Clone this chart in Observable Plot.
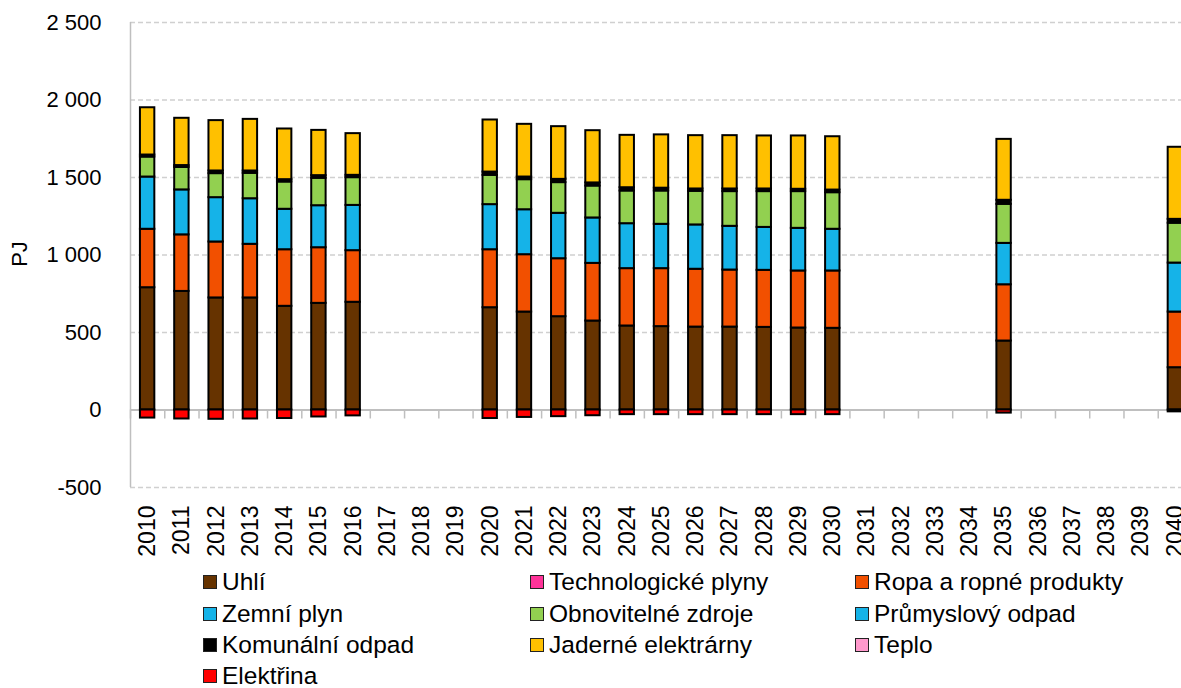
<!DOCTYPE html>
<html>
<head>
<meta charset="utf-8">
<script src="https://cdn.jsdelivr.net/npm/d3@7"></script>
<script src="https://cdn.jsdelivr.net/npm/@observablehq/plot@0.6"></script>
<style>
  html, body { margin: 0; padding: 0; background: #fff; overflow: hidden; }
  #wrap { position: relative; width: 1181px; height: 688px; overflow: hidden; font-family: "Liberation Sans", Arial, sans-serif; color: #000; }
  #chart { position: absolute; left: 0; top: 0; width: 1200px; }
  #chart svg { max-width: none !important; }
  #ylab { position: absolute; left: 20px; top: 254px; transform: translate(-50%, -50%) rotate(-90deg); font-size: 22px; white-space: nowrap; }
  .lg { position: absolute; display: flex; align-items: center; font-size: 24.5px; white-space: nowrap; line-height: 1; }
  .lg .sw { width: 12px; height: 12px; border: 1.5px solid #222; margin-right: 5px; flex: none; }
</style>
</head>
<body>
<div id="wrap">
  <div id="chart"></div>
  <div id="ylab">PJ</div>
  <div id="legend"></div>
</div>
<script>
// ---- data ----
const years = d3.range(2010, 2041);
const dataYears = [2010,2011,2012,2013,2014,2015,2016,2020,2021,2022,2023,2024,2025,2026,2027,2028,2029,2030,2035,2040];
const seriesNames = ["Uhlí","Technologické plyny","Ropa a ropné produkty","Zemní plyn","Obnovitelné zdroje","Průmyslový odpad","Komunální odpad","Jaderné elektrárny","Teplo","Elektřina"];
const seriesColors = ["#663300","#FF3399","#F25000","#15B3E8","#92D050","#15B3E8","#000000","#FFC000","#FF99CC","#FF0000"];
const uhli        = [789,765,723,723,669,688,695,660,632,602,574,542,538,535,535,533,529,527,445,273];
const techPlyny   = [0,0,0,0,0,0,0,0,0,0,0,0,0,0,0,0,0,0,0,0];
const ropa        = [377,365,361,346,365,359,333,374,370,374,372,370,374,373,368,368,368,370,363,359];
const zemniPlyn   = [337,290,286,294,261,271,292,291,290,293,293,290,286,286,282,277,275,269,267,316];
const obnovitelne = [129,145,155,164,176,177,179,189,194,198,206,211,215,217,224,231,237,236,252,257];
const prumyslovy  = [0,0,0,0,0,0,0,0,0,0,0,0,0,0,0,0,0,0,0,0];
const komunalni   = [13,12,17,15,15,17,15,21,17,21,20,21,18,15,17,17,15,17,26,25];
const jaderne     = [305,305,325,333,327,292,269,336,340,340,337,338,344,344,344,342,344,344,393,465];
const teplo       = [0,0,0,0,0,0,0,0,0,0,0,0,0,0,0,0,0,0,0,0];
const elektrina   = [-52,-58,-60,-58,-55,-45,-38,-55,-48,-43,-37,-30,-30,-30,-30,-30,-30,-30,-20,-12];
const yTicks = [-500, 0, 500, 1000, 1500, 2000, 2500];

const seriesValues = [uhli, techPlyny, ropa, zemniPlyn, obnovitelne, prumyslovy, komunalni, jaderne, teplo, elektrina];
const table = [];
seriesNames.forEach((name, si) => {
  dataYears.forEach((yr, i) => {
    const v = seriesValues[si][i];
    if (v !== 0) table.push({year: yr, series: name, value: v});
  });
});

const W = 1200, ML = 130, MR = 8, MT = 22, MB = 73, H = 560;
const step = (W - ML - MR) / years.length;
const fmt = d3.formatLocale({decimal: ",", thousands: " ", grouping: [3], currency: ["", ""], minus: "-"}).format(",");

const chart = Plot.plot({
  width: W, height: H,
  marginLeft: ML, marginRight: MR, marginTop: MT, marginBottom: MB,
  style: {fontFamily: "Liberation Sans, Arial, sans-serif", fontSize: "22px", color: "#000", background: "#fff", maxWidth: "none", overflow: "visible"},
  x: {type: "band", domain: years, paddingInner: 0.58, paddingOuter: 0.29, round: false, axis: null},
  y: {domain: [-500, 2500], axis: null},
  color: {domain: seriesNames, range: seriesColors},
  marks: [
    Plot.gridY(yTicks, {stroke: "#d0d0d0", strokeOpacity: 1, strokeWidth: 1.5, strokeDasharray: "5,3"}),
    Plot.ruleY([0], {stroke: "#bfbfbf", strokeWidth: 2}),
    Plot.ruleX(years, {x: d => d, y1: 0, y2: -58, dx: -step / 2, stroke: "#bfbfbf", strokeWidth: 1.5}),
    Plot.ruleX([years[0]], {x: d => d, y1: -500, y2: 2500, dx: -step / 2, stroke: "#bfbfbf", strokeWidth: 1.5}),
    Plot.barY(table, Plot.stackY({x: "year", y: "value", fill: "series", stroke: "#000", strokeWidth: 2})),
    Plot.axisY(yTicks, {tickSize: 0, tickPadding: 29, tickFormat: fmt, fontSize: 22, label: null}),
    Plot.axisX(years, {tickSize: 0, tickPadding: 18, tickRotate: -90, tickFormat: d => String(d), fontSize: 23, label: null})
  ]
});
document.getElementById("chart").appendChild(chart);

// ---- legend ----
const colX = [203, 530, 855];
const rowY = [582, 614, 645, 676];
const legend = document.getElementById("legend");
seriesNames.forEach((name, i) => {
  const c = i % 3, r = Math.floor(i / 3);
  const el = document.createElement("div");
  el.className = "lg";
  el.style.left = colX[c] + "px";
  el.style.top = (rowY[r] - 11) + "px";
  el.style.height = "22px";
  const sw = document.createElement("span");
  sw.className = "sw";
  sw.style.background = seriesColors[i];
  const tx = document.createElement("span");
  tx.textContent = name;
  el.appendChild(sw); el.appendChild(tx);
  legend.appendChild(el);
});
</script>
</body>
</html>
